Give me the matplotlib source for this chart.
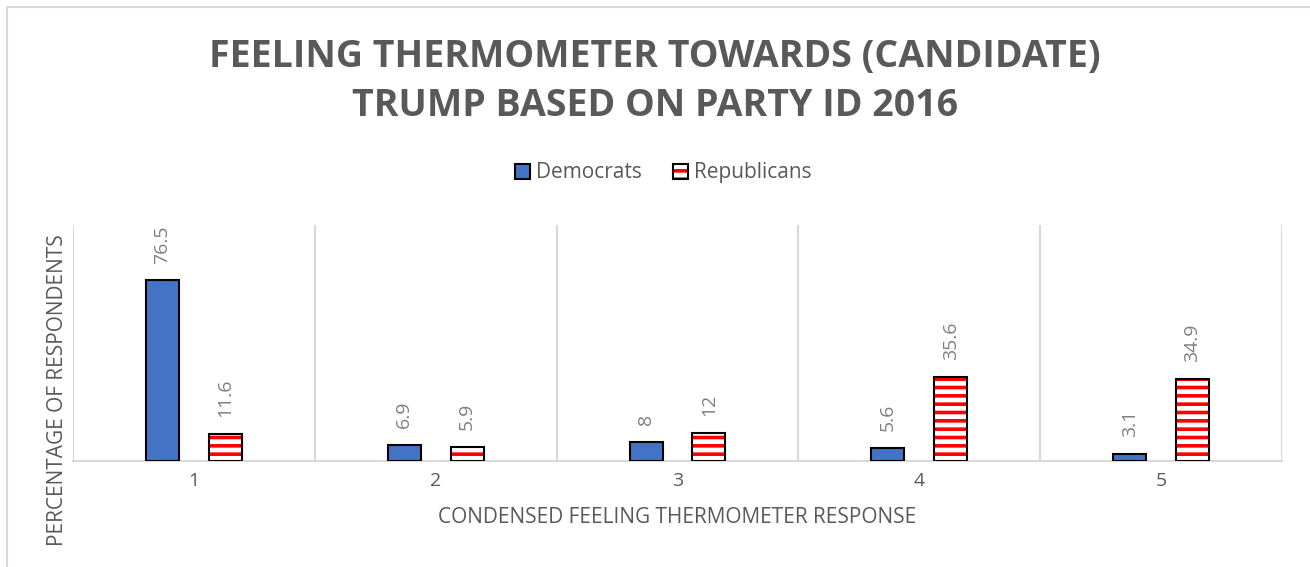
import numpy as np
import matplotlib
matplotlib.use('Agg')
import matplotlib.pyplot as plt
from matplotlib.patches import Rectangle, Patch

categories = ['1', '2', '3', '4', '5']
democrats = [76.5, 6.9, 8, 5.6, 3.1]
republicans = [11.6, 5.9, 12, 35.6, 34.9]
dem_labels = ['76.5', '6.9', '8', '5.6', '3.1']
rep_labels = ['11.6', '5.9', '12', '35.6', '34.9']

plt.rcParams['font.family'] = ['Open Sans', 'DejaVu Sans']
plt.rcParams['hatch.linewidth'] = 2.6

W, H = 1310, 567
fig = plt.figure(figsize=(W / 100, H / 100), dpi=100)
ax = fig.add_axes([73 / W, 1 - 461 / H, (1282 - 73) / W, (461 - 225) / H])

# outer chart frame
fig.patches.append(Rectangle((7 / W, -0.05), 1.1, 1 - 7 / H + 0.05,
                             transform=fig.transFigure, fill=False,
                             edgecolor='#d9d9d9', linewidth=1.5))

x = np.arange(len(categories))
bw = 0.137
off = 0.13

ax.bar(x - off, democrats, bw, color='#4472c4', edgecolor='black', linewidth=1.5, zorder=3)
# striped republican bars: red hatch first, black outline on top
ax.bar(x + off, republicans, bw, color='white', edgecolor='red', hatch='--', linewidth=0, zorder=3)
ax.bar(x + off, republicans, bw, fill=False, edgecolor='black', linewidth=1.5, zorder=4)

for i in range(len(categories)):
    ax.annotate(dem_labels[i], (x[i] - off, democrats[i]), xytext=(0, 12),
                textcoords='offset points', rotation=90, ha='center', va='bottom',
                fontsize=14, color='#7f7f7f')
    ax.annotate(rep_labels[i], (x[i] + off, republicans[i]), xytext=(0, 12),
                textcoords='offset points', rotation=90, ha='center', va='bottom',
                fontsize=14, color='#7f7f7f')

ax.set_xlim(-0.5, len(categories) - 0.5)
ax.set_ylim(0, 100)
ax.set_yticks([])
ax.set_xticks(x)
ax.set_xticklabels(categories, fontsize=14, color='#595959')
ax.tick_params(axis='x', length=0, pad=8)

for b in np.arange(-0.5, len(categories), 1.0):
    ax.axvline(b, color='#d9d9d9', linewidth=1.5, zorder=1)
for s in ['top', 'right', 'left']:
    ax.spines[s].set_visible(False)
ax.spines['bottom'].set_color('#d9d9d9')
ax.spines['bottom'].set_linewidth(1.5)

ax.set_xlabel('CONDENSED FEELING THERMOMETER RESPONSE', fontsize=15, color='#595959', labelpad=12)
fig.text(58 / W, 1 - 390 / H, 'PERCENTAGE OF RESPONDENTS', rotation=90, ha='center', va='center',
         fontsize=15, color='#595959')

fig.text(655 / W, 1 - 57 / H, 'FEELING THERMOMETER TOWARDS (CANDIDATE)', ha='center', va='center',
         fontsize=27, fontweight='bold', color='#595959')
fig.text(655 / W, 1 - 106 / H, 'TRUMP BASED ON PARTY ID 2016', ha='center', va='center',
         fontsize=27, fontweight='bold', color='#595959')

# legend
dem_h = Patch(facecolor='#4472c4', edgecolor='black', linewidth=1.5)
rep_h = (Patch(facecolor='white', edgecolor='red', hatch='--', linewidth=0),
         Patch(fill=False, edgecolor='black', linewidth=1.5))
leg = fig.legend(handles=[dem_h, rep_h], labels=['Democrats', 'Republicans'], loc='center',
                 bbox_to_anchor=(663 / W, 1 - 173 / H), ncol=2,
                 frameon=False, fontsize=15, handlelength=0.75, handleheight=0.75,
                 handletextpad=0.25, columnspacing=1.5)
for t in leg.get_texts():
    t.set_color('#595959')

fig.savefig('out.png', dpi=100)
